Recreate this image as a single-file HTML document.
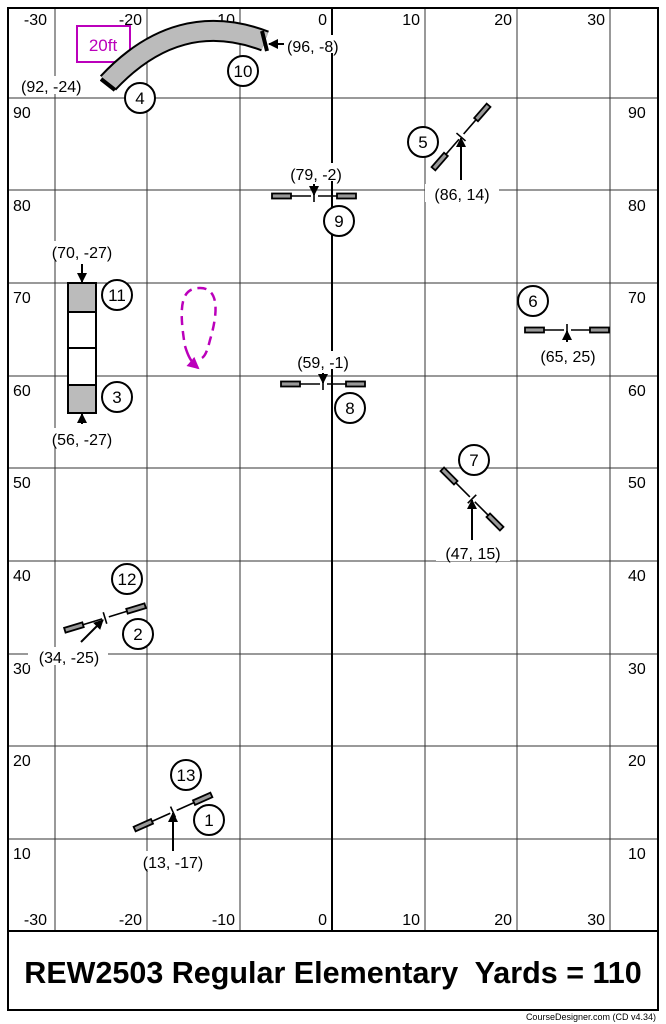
<!DOCTYPE html>
<html><head><meta charset="utf-8"><style>
html,body{margin:0;padding:0;background:#fff;}
svg{display:block;}
text{font-family:"Liberation Sans",sans-serif;fill:#000;}
</style></head><body>
<svg width="666" height="1024" viewBox="0 0 666 1024" xmlns="http://www.w3.org/2000/svg">
<defs>
<g id="jump">
<line x1="-42" y1="0" x2="-3" y2="0" stroke="#000" stroke-width="1.6"/>
<line x1="4" y1="0" x2="42" y2="0" stroke="#000" stroke-width="1.6"/>
<rect x="-42" y="-2.5" width="19" height="5" fill="#999" stroke="#000" stroke-width="1.8"/>
<rect x="23" y="-2.5" width="19" height="5" fill="#999" stroke="#000" stroke-width="1.8"/>
<line x1="0" y1="-6" x2="0" y2="6" stroke="#000" stroke-width="1.6"/>
</g>
<marker id="ah" markerWidth="10" markerHeight="10" refX="9" refY="5" orient="auto" markerUnits="userSpaceOnUse"><path d="M0,0 L10,5 L0,10 z" fill="#000"/></marker>
<marker id="mh" markerWidth="12" markerHeight="12" refX="10" refY="6" orient="auto" markerUnits="userSpaceOnUse"><path d="M0,0 L12,6 L0,12 z" fill="#b0b"/></marker>
</defs>
<rect x="0" y="0" width="666" height="1024" fill="#fff"/>
<g stroke="#333" stroke-width="1">
<line x1="55" y1="8" x2="55" y2="931"/><line x1="147" y1="8" x2="147" y2="931"/><line x1="240" y1="8" x2="240" y2="931"/>
<line x1="425" y1="8" x2="425" y2="931"/><line x1="517" y1="8" x2="517" y2="931"/><line x1="610" y1="8" x2="610" y2="931"/>
<line x1="8" y1="98" x2="658" y2="98"/><line x1="8" y1="190" x2="658" y2="190"/><line x1="8" y1="283" x2="658" y2="283"/>
<line x1="8" y1="376" x2="658" y2="376"/><line x1="8" y1="468" x2="658" y2="468"/><line x1="8" y1="561" x2="658" y2="561"/>
<line x1="8" y1="654" x2="658" y2="654"/><line x1="8" y1="746" x2="658" y2="746"/><line x1="8" y1="839" x2="658" y2="839"/>
</g>
<line x1="332" y1="8" x2="332" y2="931" stroke="#000" stroke-width="2"/>
<rect x="8" y="8" width="650" height="1002" fill="none" stroke="#000" stroke-width="2"/>
<line x1="8" y1="931" x2="658" y2="931" stroke="#000" stroke-width="2"/>
<g font-size="16" text-anchor="end">
<text x="47" y="25">-30</text><text x="142" y="25">-20</text><text x="235" y="25">-10</text><text x="327" y="25">0</text><text x="420" y="25">10</text><text x="512" y="25">20</text><text x="605" y="25">30</text>
<text x="47" y="925">-30</text><text x="142" y="925">-20</text><text x="235" y="925">-10</text><text x="327" y="925">0</text><text x="420" y="925">10</text><text x="512" y="925">20</text><text x="605" y="925">30</text>
</g>
<g font-size="16">
<text x="13" y="118">90</text><text x="13" y="211">80</text><text x="13" y="303">70</text><text x="13" y="396">60</text><text x="13" y="488">50</text><text x="13" y="581">40</text><text x="13" y="674">30</text><text x="13" y="766">20</text><text x="13" y="859">10</text>
<text x="628" y="118">90</text><text x="628" y="211">80</text><text x="628" y="303">70</text><text x="628" y="396">60</text><text x="628" y="488">50</text><text x="628" y="581">40</text><text x="628" y="674">30</text><text x="628" y="766">20</text><text x="628" y="859">10</text>
</g>
<rect x="77" y="26" width="53" height="36" fill="#fff" stroke="#b0b" stroke-width="2"/>
<text x="103" y="51" font-size="17" text-anchor="middle" style="fill:#b0b">20ft</text>
<path d="M108,83 Q178,8 265,41" fill="none" stroke="#000" stroke-width="22"/>
<path d="M108,83 Q178,8 265,41" fill="none" stroke="#bbb" stroke-width="18"/>
<line x1="101" y1="79" x2="115" y2="90" stroke="#000" stroke-width="4"/>
<line x1="262" y1="31" x2="267" y2="51" stroke="#000" stroke-width="4"/>
<line x1="284" y1="44" x2="269" y2="44" stroke="#000" stroke-width="2" marker-end="url(#ah)"/>
<rect x="20" y="76" width="80" height="18" fill="#fff"/>
<text x="21" y="92" font-size="16">(92, -24)</text>
<rect x="286" y="35" width="64" height="18" fill="#fff"/>
<text x="287" y="52" font-size="16">(96, -8)</text>
<rect x="68" y="283" width="28" height="29" fill="#bbb" stroke="#000" stroke-width="2"/>
<rect x="68" y="312" width="28" height="36" fill="#fff" stroke="#000" stroke-width="2"/>
<rect x="68" y="348" width="28" height="37" fill="#fff" stroke="#000" stroke-width="2"/>
<rect x="68" y="385" width="28" height="28" fill="#bbb" stroke="#000" stroke-width="2"/>
<line x1="82" y1="264" x2="82" y2="282" stroke="#000" stroke-width="2" marker-end="url(#ah)"/>
<line x1="82" y1="424" x2="82" y2="414" stroke="#000" stroke-width="2" marker-end="url(#ah)"/>
<rect x="44" y="241" width="78" height="18" fill="#fff"/>
<text x="82" y="258" font-size="16" text-anchor="middle">(70, -27)</text>
<rect x="44" y="428" width="78" height="18" fill="#fff"/>
<text x="82" y="445" font-size="16" text-anchor="middle">(56, -27)</text>
<path d="M184,340 C178,300 184,288 200,288 C222,288 216,320 210,340 C207,352 205,356 202,358" fill="none" stroke="#b0b" stroke-width="2.5" stroke-dasharray="9,6"/>
<path d="M185,346 C188,356 191,362 198,368" fill="none" stroke="#b0b" stroke-width="2.5" marker-end="url(#mh)"/>
<use href="#jump" transform="translate(314,196)"/>
<line x1="314" y1="184" x2="314" y2="195" stroke="#000" stroke-width="2" marker-end="url(#ah)"/>
<rect x="285" y="163" width="62" height="18" fill="#fff"/>
<text x="316" y="180" font-size="16" text-anchor="middle">(79, -2)</text>
<use href="#jump" transform="translate(323,384)"/>
<line x1="323" y1="373" x2="323" y2="383" stroke="#000" stroke-width="2" marker-end="url(#ah)"/>
<rect x="288" y="351" width="70" height="18" fill="#fff"/>
<text x="323" y="368" font-size="16" text-anchor="middle">(59, -1)</text>
<use href="#jump" transform="translate(567,330)"/>
<line x1="567" y1="342" x2="567" y2="331" stroke="#000" stroke-width="2" marker-end="url(#ah)"/>
<text x="568" y="362" font-size="16" text-anchor="middle">(65, 25)</text>
<use href="#jump" transform="translate(461,137) rotate(-49)"/>
<line x1="461" y1="180" x2="461" y2="138" stroke="#000" stroke-width="2" marker-end="url(#ah)"/>
<rect x="425" y="184" width="74" height="18" fill="#fff"/>
<text x="462" y="200" font-size="16" text-anchor="middle">(86, 14)</text>
<use href="#jump" transform="translate(472,499) rotate(45)"/>
<line x1="472" y1="540" x2="472" y2="500" stroke="#000" stroke-width="2" marker-end="url(#ah)"/>
<rect x="436" y="543" width="74" height="18" fill="#fff"/>
<text x="473" y="559" font-size="16" text-anchor="middle">(47, 15)</text>
<use href="#jump" transform="translate(105,618) rotate(-17)"/>
<line x1="81" y1="642" x2="103" y2="620" stroke="#000" stroke-width="2" marker-end="url(#ah)"/>
<rect x="28" y="647" width="80" height="18" fill="#fff"/>
<text x="69" y="663" font-size="16" text-anchor="middle">(34, -25)</text>
<use href="#jump" transform="translate(173,812) rotate(-24)"/>
<line x1="173" y1="851" x2="173" y2="813" stroke="#000" stroke-width="2" marker-end="url(#ah)"/>
<rect x="132" y="851" width="82" height="18" fill="#fff"/>
<text x="173" y="868" font-size="16" text-anchor="middle">(13, -17)</text>
<g fill="#fff" stroke="#000" stroke-width="2">
<circle cx="140" cy="98" r="15"/><circle cx="243" cy="71" r="15"/><circle cx="423" cy="142" r="15"/>
<circle cx="339" cy="221" r="15"/><circle cx="117" cy="295" r="15"/><circle cx="117" cy="397" r="15"/>
<circle cx="533" cy="301" r="15"/><circle cx="350" cy="408" r="15"/><circle cx="474" cy="460" r="15"/>
<circle cx="127" cy="579" r="15"/><circle cx="138" cy="634" r="15"/><circle cx="186" cy="775" r="15"/>
<circle cx="209" cy="820" r="15"/>
</g>
<g font-size="17" text-anchor="middle">
<text x="140" y="104">4</text><text x="243" y="77">10</text><text x="423" y="148">5</text>
<text x="339" y="227">9</text><text x="117" y="301">11</text><text x="117" y="403">3</text>
<text x="533" y="307">6</text><text x="350" y="414">8</text><text x="474" y="466">7</text>
<text x="127" y="585">12</text><text x="138" y="640">2</text><text x="186" y="781">13</text>
<text x="209" y="826">1</text>
</g>
<text x="333" y="983" font-size="30.5" font-weight="bold" text-anchor="middle">REW2503 Regular Elementary&#160; Yards = 110</text>
<text x="656" y="1020" font-size="9" text-anchor="end">CourseDesigner.com (CD v4.34)</text>
</svg>
</body></html>
